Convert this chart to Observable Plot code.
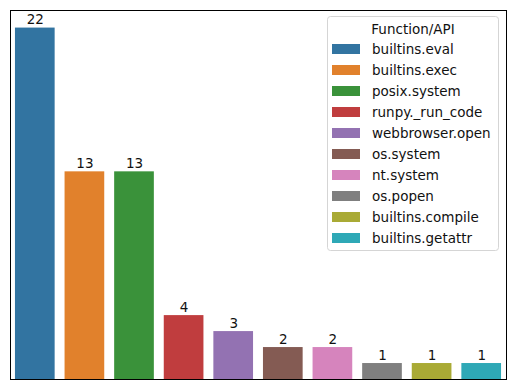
<!DOCTYPE html>
<html><head><meta charset="utf-8">
<script src="https://cdn.jsdelivr.net/npm/d3@7"></script>
<script src="https://cdn.jsdelivr.net/npm/@observablehq/plot@0.6"></script>
<style>body{margin:0;background:#fff;} svg{font-family:"DejaVu Sans",sans-serif;}</style>
</head><body><div id="chart"></div>
<script>
const functions = ["builtins.eval","builtins.exec","posix.system","runpy._run_code","webbrowser.open","os.system","nt.system","os.popen","builtins.compile","builtins.getattr"];
const counts = [22,13,13,4,3,2,2,1,1,1];
const colors = ["#3274a1","#e1812c","#3a923a","#c03d3e","#9372b2","#845b53","#d684bd","#7f7f7f","#a9aa35","#2ea8b6"];
const legendTitle = "Function/API";

const data = functions.map((f,i)=>({f, c: counts[i]}));

const chart = Plot.plot({
  width: 515, height: 389,
  marginLeft: 10, marginRight: 9, marginTop: 10, marginBottom: 10,
  style: {fontFamily: "DejaVu Sans, sans-serif", background: "#fff"},
  x: {domain: functions, paddingInner: 0.2, paddingOuter: 0.1, round: false, axis: null},
  y: {domain: [0, 23.1], axis: null},
  color: {domain: functions, range: colors},
  marks: [
    Plot.barY(data, {x: "f", y: "c", fill: "f"}),
    Plot.text(data, {x: "f", y: "c", text: d => String(d.c), lineAnchor: "bottom", dy: -4, fontSize: 13.5, fill: "#111"}),
    Plot.frame({stroke: "#000", strokeWidth: 1})
  ]
});
document.getElementById("chart").appendChild(chart);

// legend
const svg = d3.select(chart);
const lg = svg.append("g").attr("font-family","DejaVu Sans, sans-serif").attr("font-size",13.5).attr("text-anchor","start");
lg.append("rect").attr("x",327.5).attr("y",16.5).attr("width",171).attr("height",234).attr("rx",3)
  .attr("fill","#fff").attr("fill-opacity",0.8).attr("stroke","#d5d5d5");
lg.append("text").attr("x",413).attr("y",34).attr("text-anchor","middle").attr("fill","#111").text(legendTitle);
functions.forEach((f,i)=>{
  const cy = 49 + i*21;
  lg.append("rect").attr("x",332).attr("y",cy-5).attr("width",28).attr("height",10).attr("fill",colors[i]);
  lg.append("text").attr("x",372).attr("y",cy+5).attr("text-anchor","start").attr("fill","#111").text(f);
});
</script></body></html>
